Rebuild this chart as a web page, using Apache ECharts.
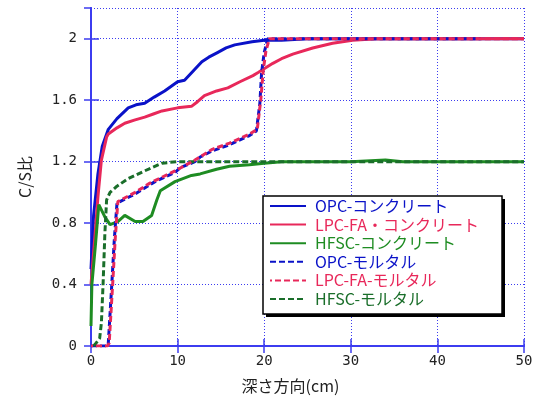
<!DOCTYPE html>
<html>
<head>
<meta charset="utf-8">
<script src="https://cdn.jsdelivr.net/npm/echarts@6/dist/echarts.min.js"></script>
<style>html,body{margin:0;padding:0;background:#fff;}#c{width:540px;height:407px;}</style>
</head>
<body>
<div id="c"></div>
<script>
// ---- data ----
const seriesNames = ['OPC-コンクリート', 'LPC-FA・コンクリート', 'HFSC-コンクリート', 'OPC-モルタル', 'LPC-FA-モルタル', 'HFSC-モルタル'];
const xTicks = [0, 10, 20, 30, 40, 50];
const yTicks = [0, 0.4, 0.8, 1.2, 1.6, 2];

const opcConcX = [0, 0.3, 0.8, 1.3, 2.0, 3.0, 4.3, 5.2, 6.2, 7.3, 8.5, 10.0, 10.8, 11.8, 12.8, 13.6, 14.6, 15.6, 16.6, 18.6, 20.0, 22, 25, 30, 40, 50];
const opcConcY = [0.5, 0.85, 1.12, 1.3, 1.41, 1.48, 1.55, 1.57, 1.58, 1.62, 1.66, 1.72, 1.73, 1.79, 1.85, 1.88, 1.91, 1.94, 1.96, 1.98, 1.99, 1.99, 2.0, 2.0, 2.0, 2.0];

const lpcConcX = [0, 0.5, 0.8, 1.2, 1.8, 2.0, 3.0, 3.9, 5.0, 6.2, 7.2, 8.2, 10.0, 11.6, 12.3, 13.1, 14.5, 15.8, 17.2, 18.7, 19.3, 21.0, 22.0, 23.3, 25.6, 27.9, 30.2, 33, 40, 50];
const lpcConcY = [0.4, 0.75, 0.97, 1.21, 1.36, 1.38, 1.42, 1.45, 1.47, 1.49, 1.51, 1.53, 1.55, 1.56, 1.59, 1.63, 1.66, 1.68, 1.72, 1.76, 1.78, 1.84, 1.87, 1.9, 1.94, 1.97, 1.99, 2.0, 2.0, 2.0];

const hfscConcX = [0, 0.1, 0.5, 0.9, 1.6, 2.2, 3.1, 3.9, 5.1, 6.0, 7.0, 7.6, 8.0, 9.7, 11.6, 12.6, 14.5, 16.0, 18.3, 20, 22, 25, 30, 34, 36, 40, 50];
const hfscConcY = [0.13, 0.4, 0.65, 0.92, 0.84, 0.79, 0.81, 0.85, 0.81, 0.81, 0.85, 0.95, 1.01, 1.07, 1.11, 1.12, 1.15, 1.17, 1.18, 1.19, 1.2, 1.2, 1.2, 1.21, 1.2, 1.2, 1.2];

const opcMortX = [0, 1.8, 2.0, 2.4, 2.7, 3.0, 5.1, 6.8, 7.4, 9.7, 10.3, 12.0, 12.6, 14.0, 15.5, 16.0, 18.3, 19.1, 19.5, 19.7, 20.0, 20.4, 25, 30, 40, 45];
const opcMortY = [0, 0, 0.02, 0.4, 0.7, 0.93, 0.99, 1.05, 1.07, 1.13, 1.16, 1.2, 1.23, 1.27, 1.3, 1.31, 1.37, 1.4, 1.58, 1.78, 1.91, 2.0, 2.0, 2.0, 2.0, 2.0];

const lpcMortX = [0, 1.9, 2.1, 2.5, 2.8, 3.1, 5.1, 6.8, 9.7, 12.0, 14.0, 16.0, 18.3, 19.2, 19.6, 19.9, 20.2, 20.6, 25, 30, 40, 50];
const lpcMortY = [0, 0, 0.02, 0.4, 0.7, 0.94, 1.0, 1.06, 1.14, 1.21, 1.28, 1.32, 1.38, 1.41, 1.6, 1.8, 1.92, 2.0, 2.0, 2.0, 2.0, 2.0];

const hfscMortX = [0.3, 0.6, 1.0, 1.2, 1.4, 1.6, 1.8, 2.2, 3.0, 4.3, 6.2, 8.2, 10, 15, 20, 30, 40, 50];
const hfscMortY = [0.0, 0.02, 0.05, 0.15, 0.41, 0.73, 0.95, 1.0, 1.04, 1.09, 1.14, 1.19, 1.2, 1.2, 1.2, 1.2, 1.2, 1.2];

// ---- styling ----
const colors = ['#0a12c8', '#e8285a', '#1e8c22', '#0a12c8', '#e8285a', '#1a6e2a'];
const axisBlue = '#3c3cf0';
const monoFont = '"DejaVu Sans Mono", "Liberation Mono", monospace';
const jpFont = '"Noto Sans CJK JP", sans-serif';

function zip(xs, ys) { return xs.map((x, i) => [x, ys[i]]); }
const dataSets = [
  zip(opcConcX, opcConcY), zip(lpcConcX, lpcConcY), zip(hfscConcX, hfscConcY),
  zip(opcMortX, opcMortY), zip(lpcMortX, lpcMortY), zip(hfscMortX, hfscMortY)
];

const series = dataSets.map((d, i) => ({
  name: seriesNames[i],
  type: 'line',
  data: d,
  symbol: 'none',
  smooth: false,
  z: 2 + (i === 4 ? 1 : 0),
  lineStyle: {
    color: colors[i],
    width: 3,
    type: i < 3 ? 'solid' : [6, 3],
    dashOffset: i === 4 ? 4 : 0
  },
  itemStyle: { color: colors[i] }
}));

const grid = { left: 91, right: 16, top: 8, bottom: 61, containLabel: false };

const chart = echarts.init(document.getElementById('c'), null, { renderer: 'canvas' });
chart.setOption({
  animation: false,
  backgroundColor: '#fff',
  grid: grid,
  xAxis: [{
    type: 'value', min: xTicks[0], max: xTicks[xTicks.length - 1], interval: 10,
    name: '深さ方向(cm)', nameLocation: 'middle', nameGap: 32,
    nameTextStyle: { fontFamily: jpFont, fontSize: 16, color: '#222', padding: [0, 34, 0, 0] },
    axisLine: { show: true, lineStyle: { color: axisBlue, width: 2 } },
    axisTick: { show: true, inside: true, length: 7, lineStyle: { color: axisBlue, width: 1.5 } },
    axisLabel: { fontFamily: monoFont, fontSize: 14, color: '#222', margin: 8 },
    splitLine: { show: true, lineStyle: { color: axisBlue, width: 1, type: [1, 2] } }
  }, {
    type: 'value', position: 'top', min: xTicks[0], max: xTicks[xTicks.length - 1], interval: 10,
    axisLine: { show: true, lineStyle: { color: axisBlue, width: 2 } },
    axisTick: { show: true, inside: true, length: 7, lineStyle: { color: axisBlue, width: 1.5 } },
    axisLabel: { show: false }, splitLine: { show: false }
  }],
  yAxis: [{
    type: 'value', min: 0, max: 2.2, interval: 0.4,
    name: 'C/S比', nameLocation: 'middle', nameGap: 58, nameRotate: 90,
    nameTextStyle: { fontFamily: jpFont, fontSize: 16, color: '#222' },
    axisLine: { show: true, lineStyle: { color: axisBlue, width: 2 } },
    axisTick: { show: true, inside: true, length: 8, lineStyle: { color: axisBlue, width: 1.5 } },
    axisLabel: {
      fontFamily: monoFont, fontSize: 14, color: '#222', margin: 14, showMaxLabel: false,
      formatter: v => (yTicks.some(t => Math.abs(t - v) < 1e-9) ? String(+v.toFixed(1)) : '')
    },
    splitLine: { show: true, lineStyle: { color: axisBlue, width: 1, type: [1, 2] } }
  }, {
    type: 'value', position: 'right', min: 0, max: 2.2, interval: 0.4,
    axisLine: { show: true, lineStyle: { color: axisBlue, width: 2 } },
    axisTick: { show: true, inside: true, length: 7, lineStyle: { color: axisBlue, width: 1.5 } },
    axisLabel: { show: false }, splitLine: { show: false }
  }],
  legend: {
    orient: 'vertical', left: 269, top: 198, padding: 0,
    itemWidth: 36, itemHeight: 14, itemGap: 2.6,
    z: 20,
    itemStyle: { opacity: 0 },
    textStyle: { fontFamily: jpFont, fontSize: 16, padding: [0, 0, 0, 4] },
    data: seriesNames.map((n, i) => ({ name: n, textStyle: { color: colors[i] } })),
    selectedMode: false
  },
  graphic: [
    { type: 'rect', z: 18, shape: { x: 266, y: 199, width: 239, height: 118 }, style: { fill: '#000' } },
    { type: 'rect', z: 19, shape: { x: 263, y: 196, width: 239, height: 118 }, style: { fill: '#fff', stroke: '#000', lineWidth: 1.5 } }
  ],
  series: series
});
</script>
</body>
</html>
